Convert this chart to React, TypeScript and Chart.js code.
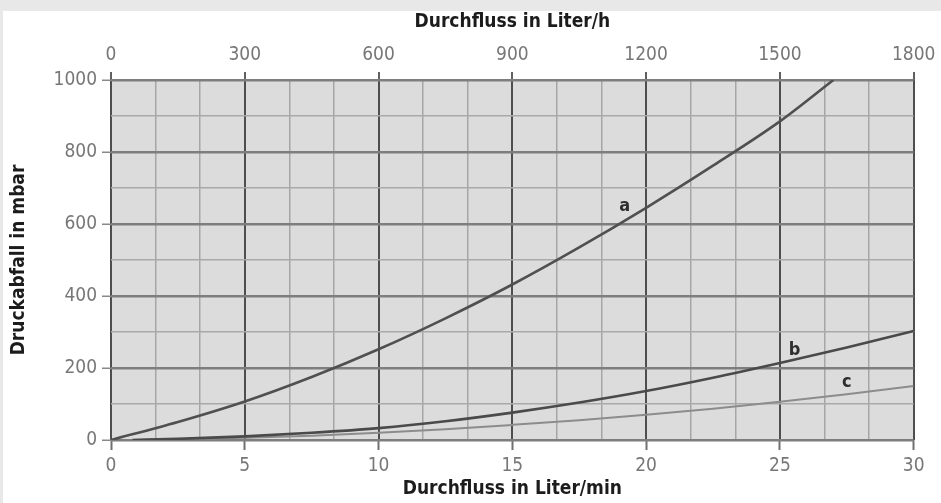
import React, { useEffect, useRef } from 'react';
import { Chart, registerables } from 'chart.js';

Chart.register(...registerables);

// Flow in Liter/min (bottom axis) and pressure drop in mbar
const curveAX = [0, 2.5, 5, 7.5, 10, 12.5, 15, 17.5, 20, 22.5, 25, 27];
const curveAY = [0, 50, 107, 175, 252, 338, 432, 535, 645, 762, 885, 1000];
const curveBX = [0.8, 2.5, 5, 7.5, 10, 12.5, 15, 17.5, 20, 22.5, 25, 27.5, 30];
const curveBY = [0, 3, 10, 20, 33, 52, 76, 104, 136, 173, 214, 257, 303];
const curveCX = [0.8, 2.5, 5, 7.5, 10, 12.5, 15, 17.5, 20, 22.5, 25, 27.5, 30];
const curveCY = [0, 2, 6, 12, 20, 30, 42, 55, 70, 87, 106, 127, 150];

const curveNames = ['a', 'b', 'c'];
const curveLabelX = [19.2, 25.55, 27.5];
const curveLabelY = [650, 250, 161];

const bottomTitle = 'Durchfluss in Liter/min';
const topTitle = 'Durchfluss in Liter/h';
const leftTitle = 'Druckabfall in mbar';

const FONT = "'DejaVu Sans Condensed', 'Liberation Sans Narrow', 'DejaVu Sans', sans-serif";

const toPoints = (xs: number[], ys: number[]) => xs.map((x, i) => ({ x, y: ys[i] }));

const bgPlugin = {
  id: 'bgPlugin',
  beforeDraw(chart: any) {
    const { ctx, chartArea } = chart;
    ctx.save();
    ctx.fillStyle = '#ffffff';
    ctx.fillRect(0, 0, chart.width, chart.height);
    ctx.fillStyle = '#dcdcdc';
    ctx.fillRect(chartArea.left, chartArea.top, chartArea.right - chartArea.left, chartArea.bottom - chartArea.top);
    ctx.restore();
  },
};

const curveLabelPlugin = {
  id: 'curveLabelPlugin',
  afterDatasetsDraw(chart: any) {
    const { ctx } = chart;
    const xs = chart.scales.x;
    const ys = chart.scales.y;
    ctx.save();
    ctx.font = `bold 18px ${FONT}`;
    ctx.fillStyle = '#2e2e2e';
    ctx.textAlign = 'center';
    ctx.textBaseline = 'middle';
    curveNames.forEach((n, i) => {
      ctx.fillText(n, xs.getPixelForValue(curveLabelX[i]), ys.getPixelForValue(curveLabelY[i]));
    });
    ctx.restore();
  },
};

export default function App() {
  const ref = useRef<HTMLCanvasElement | null>(null);

  useEffect(() => {
    if (!ref.current) return;
    const chart = new Chart(ref.current, {
      type: 'line',
      data: {
        datasets: [
          {
            label: 'a',
            data: toPoints(curveAX, curveAY),
            borderColor: '#505050',
            borderWidth: 2.6,
            pointRadius: 0,
            cubicInterpolationMode: 'monotone',
            xAxisID: 'x',
            yAxisID: 'y',
          },
          {
            label: 'b',
            data: toPoints(curveBX, curveBY),
            borderColor: '#4a4a4a',
            borderWidth: 2.6,
            pointRadius: 0,
            cubicInterpolationMode: 'monotone',
            xAxisID: 'x',
            yAxisID: 'y',
          },
          {
            label: 'c',
            data: toPoints(curveCX, curveCY),
            borderColor: '#8c8c8c',
            borderWidth: 2,
            pointRadius: 0,
            cubicInterpolationMode: 'monotone',
            xAxisID: 'x',
            yAxisID: 'y',
          },
        ],
      },
      options: {
        animation: false,
        responsive: true,
        maintainAspectRatio: false,
        layout: { padding: { left: 0, right: 27, top: 0, bottom: 0 } },
        plugins: { legend: { display: false }, tooltip: { enabled: false } },
        scales: {
          x: {
            type: 'linear',
            position: 'bottom',
            min: 0,
            max: 30,
            afterFit: (s: any) => { s.height = 63; },
            border: { display: false },
            grid: {
              drawOnChartArea: false,
              drawTicks: true,
              tickLength: 10,
              tickColor: '#707070',
              tickWidth: 2,
            },
            ticks: {
              stepSize: 5,
              autoSkip: false,
              maxRotation: 0,
              padding: 5,
              color: '#777777',
              font: { family: FONT, size: 19 },
            },
            title: {
              display: true,
              text: bottomTitle,
              color: '#1c1c1c',
              padding: { top: 0, bottom: 4.5 },
              font: { family: FONT, size: 19, weight: 'bold', lineHeight: 1 },
            },
          },
          x2: {
            type: 'linear',
            position: 'top',
            min: 0,
            max: 1800,
            afterFit: (s: any) => { s.height = 69; },
            border: { display: false },
            grid: {
              drawOnChartArea: true,
              drawTicks: true,
              tickLength: 8,
              color: (c: any) => (c.tick && c.tick.value % 300 === 0 ? '#4e4e4e' : '#a6a6a6'),
              lineWidth: (c: any) => (c.tick && c.tick.value % 300 === 0 ? 2 : 1.5),
              tickColor: (c: any) => (c.tick && c.tick.value % 300 === 0 ? '#606060' : 'rgba(0,0,0,0)'),
              tickWidth: 2,
            },
            ticks: {
              stepSize: 100,
              autoSkip: false,
              maxRotation: 0,
              padding: 5.6,
              color: '#777777',
              font: { family: FONT, size: 19 },
              callback: (v: any) => (Number(v) % 300 === 0 ? String(v) : ''),
            },
            title: {
              display: true,
              text: topTitle,
              color: '#1c1c1c',
              padding: { top: 1.5, bottom: 0 },
              font: { family: FONT, size: 19, weight: 'bold', lineHeight: 1 },
            },
          },
          y: {
            type: 'linear',
            position: 'left',
            min: 0,
            max: 1000,
            afterFit: (s: any) => { s.width = 108; },
            border: { display: false },
            grid: {
              drawOnChartArea: true,
              drawTicks: true,
              tickLength: 9,
              color: (c: any) => (c.tick && c.tick.value % 200 === 0 ? '#7e7e7e' : '#a9a9a9'),
              lineWidth: (c: any) => (c.tick && c.tick.value % 200 === 0 ? 2.5 : 1.5),
              tickColor: (c: any) => (c.tick && c.tick.value % 200 === 0 ? '#8a8a8a' : 'rgba(0,0,0,0)'),
              tickWidth: 1.5,
            },
            ticks: {
              stepSize: 100,
              autoSkip: false,
              padding: 5,
              color: '#777777',
              font: { family: FONT, size: 19 },
              callback: (v: any) => (Number(v) % 200 === 0 ? String(v) : ''),
            },
            title: {
              display: true,
              text: leftTitle,
              color: '#1c1c1c',
              padding: { top: 6.5, bottom: 0 },
              font: { family: FONT, size: 19, weight: 'bold', lineHeight: 1 },
            },
          },
        },
      } as any,
      plugins: [bgPlugin, curveLabelPlugin],
    });
    return () => chart.destroy();
  }, []);

  return (
    <div style={{ position: 'fixed', left: 0, top: 0, width: 941, height: 503, background: '#e8e8e8' }}>
      <div style={{ position: 'absolute', left: 3, top: 11, width: 938, height: 492, background: '#ffffff' }}>
        <canvas ref={ref} />
      </div>
    </div>
  );
}
